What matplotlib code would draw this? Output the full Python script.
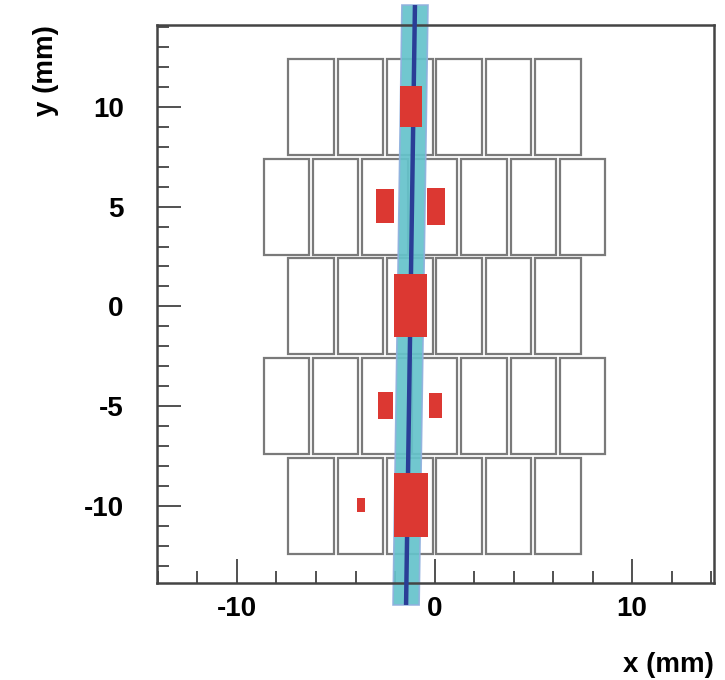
import matplotlib
matplotlib.use("Agg")
import matplotlib.pyplot as plt
from matplotlib.patches import Rectangle, Polygon
from matplotlib.ticker import MultipleLocator

plt.rcParams['font.family'] = ['Liberation Sans', 'DejaVu Sans']
plt.rcParams['axes.unicode_minus'] = False

# detector rows (centre y in mm) and number of cells per row
row_y = [10, 5, 0, -5, -10]
row_ncells = [6, 7, 6, 7, 6]
pitch = 2.5
cell_w = 2.3
cell_h = 4.8

# hit rectangles (x0, x1, y0, y1) in mm
hit_x0 = [-1.75, -2.96, -0.39, -2.05, -2.85, -0.26, -2.05, -3.94]
hit_x1 = [-0.65, -2.04, 0.53, -0.39, -2.09, 0.39, -0.34, -3.52]
hit_y0 = [8.98, 4.17, 4.09, -1.51, -5.65, -5.60, -11.54, -10.29]
hit_y1 = [11.02, 5.87, 5.92, 1.61, -4.27, -4.35, -8.33, -9.61]

# beam track: centre x at top and bottom y
beam_y = [15.1, -14.96]
beam_x = [-0.99, -1.44]
beam_hw = 0.66

fig = plt.figure(figsize=(7.25, 6.8), dpi=100)
ax = fig.add_axes([157/725, 1-583/680, (714-157)/725, (583-25)/680])

for y, n in zip(row_y, row_ncells):
    for i in range(n):
        xc = (i - (n - 1) / 2) * pitch
        ax.add_patch(Rectangle((xc - cell_w/2, y - cell_h/2), cell_w, cell_h,
                               facecolor='white', edgecolor='#7a7a7a', lw=1.6,
                               zorder=1))

band = Polygon([(beam_x[0] - beam_hw, beam_y[0]), (beam_x[0] + beam_hw, beam_y[0]),
                (beam_x[1] + beam_hw, beam_y[1]), (beam_x[1] - beam_hw, beam_y[1])],
               closed=True, facecolor='#65c3cb', edgecolor='#8fb0de', lw=1.2,
               alpha=0.92, zorder=2, clip_on=False)
ax.add_patch(band)
ax.plot(beam_x, beam_y, color='#2a3d96', lw=3.2, zorder=3, clip_on=False,
        solid_capstyle='butt')

for x0, x1, y0, y1 in zip(hit_x0, hit_x1, hit_y0, hit_y1):
    ax.add_patch(Rectangle((x0, y0), x1 - x0, y1 - y0, facecolor='#dc3832',
                           edgecolor='none', zorder=5))

ax.set_xlim(-14.05, 14.15)
ax.set_ylim(-13.86, 14.1)

ax.xaxis.set_major_locator(MultipleLocator(10))
ax.xaxis.set_minor_locator(MultipleLocator(2))
ax.yaxis.set_major_locator(MultipleLocator(5))
ax.yaxis.set_minor_locator(MultipleLocator(1))
ax.tick_params(which='both', direction='in', top=False, right=False,
               labelsize=20, width=1.2, color='#333333')
ax.tick_params(which='major', length=17)
ax.tick_params(which='minor', length=8.5)
ax.tick_params(axis='y', pad=24)
ax.tick_params(axis='x', pad=9)
for lab in ax.get_xticklabels() + ax.get_yticklabels():
    lab.set_fontweight('bold')

for s in ax.spines.values():
    s.set_linewidth(1.8)
    s.set_color('#444444')

ax.set_xlabel('x (mm)', fontsize=20, fontweight='bold', loc='right', labelpad=22)
ax.set_ylabel('y (mm)', fontsize=20, fontweight='bold', loc='top', labelpad=18)

fig.savefig('out.png', dpi=100)
